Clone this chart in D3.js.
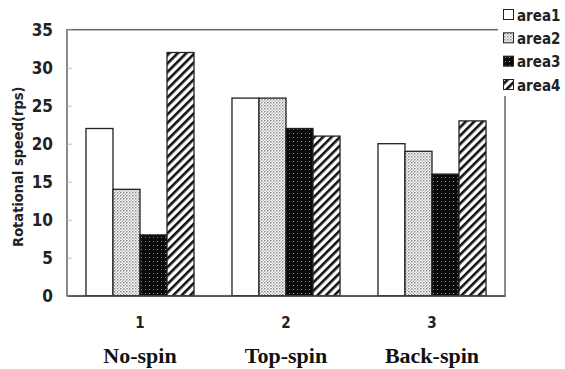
<!DOCTYPE html>
<html><head><meta charset="utf-8">
<script src="https://cdn.jsdelivr.net/npm/d3@7"></script>
<style>body{margin:0;background:#fff}</style>
</head><body>
<script>
const categories = ["1", "2", "3"];
const categoryNames = ["No-spin", "Top-spin", "Back-spin"];
const seriesNames = ["area1", "area2", "area3", "area4"];
const area1 = [22, 26, 20];
const area2 = [14, 26, 19];
const area3 = [8, 22, 16];
const area4 = [32, 21, 23];
const yTicks = [0, 5, 10, 15, 20, 25, 30, 35];
const yTitle = "Rotational speed(rps)";

const series = [area1, area2, area3, area4];
const W = 565, H = 369;
const m = {left: 67, right: 60, top: 29.7, bottom: 73.3};
const cond = "DejaVu Sans Condensed, Liberation Sans Narrow, sans-serif";
const svg = d3.select("body").append("svg").attr("width", W).attr("height", H);
const defs = svg.append("defs");

// patterns
const p2 = defs.append("pattern").attr("id", "pat2").attr("patternUnits", "userSpaceOnUse").attr("width", 3).attr("height", 3);
p2.append("rect").attr("width", 3).attr("height", 3).attr("fill", "#fff");
p2.append("rect").attr("x", 0).attr("y", 0).attr("width", 1.5).attr("height", 1.5).attr("fill", "#888");
p2.append("rect").attr("x", 1.5).attr("y", 1.5).attr("width", 1.5).attr("height", 1.5).attr("fill", "#bbb");
const p3 = defs.append("pattern").attr("id", "pat3").attr("patternUnits", "userSpaceOnUse").attr("width", 4).attr("height", 4);
p3.append("rect").attr("width", 4).attr("height", 4).attr("fill", "#0a0a0a");
p3.append("rect").attr("x", 1).attr("y", 1).attr("width", 1).attr("height", 1).attr("fill", "#888");
const p4 = defs.append("pattern").attr("id", "pat4").attr("patternUnits", "userSpaceOnUse").attr("width", 6).attr("height", 6).attr("patternTransform", "rotate(45)");
p4.append("rect").attr("width", 6).attr("height", 6).attr("fill", "#fff");
p4.append("rect").attr("x", 0).attr("y", 0).attr("width", 2.6).attr("height", 6).attr("fill", "#111");
const fills = ["#fff", "url(#pat2)", "url(#pat3)", "url(#pat4)"];

const x0 = d3.scaleBand().domain(categories).range([m.left, W - m.right]).paddingInner(0.26).paddingOuter(0.13);
const x1 = d3.scaleBand().domain(seriesNames).range([0, x0.bandwidth()]);
const y = d3.scaleLinear().domain([0, 35]).range([H - m.bottom, m.top]);

// frame
svg.append("rect").attr("x", m.left).attr("y", y(35)).attr("width", W - m.right - m.left).attr("height", y(0) - y(35))
  .attr("fill", "none").attr("stroke", "#666").attr("stroke-width", 1.5);

// y axis ticks (inward)
const yAxis = d3.axisLeft(y).tickValues(yTicks).tickSize(-5).tickPadding(14);
const ga = svg.append("g").attr("transform", `translate(${m.left},0)`).call(yAxis);
ga.select(".domain").remove();
ga.selectAll("line").attr("stroke", "#bbb");
ga.selectAll("text").attr("font-family", cond).attr("font-weight", "bold").attr("font-size", 17).attr("fill", "#222");

// bars
categories.forEach((c, i) => {
  series.forEach((s, j) => {
    svg.append("rect")
      .attr("x", x0(c) + x1(seriesNames[j]))
      .attr("y", y(s[i]))
      .attr("width", x1.bandwidth())
      .attr("height", y(0) - y(s[i]))
      .attr("fill", fills[j]).attr("stroke", "#222").attr("stroke-width", 1.3);
  });
});

// bottom axis
const xAxis = d3.axisBottom(x0).tickSize(0).tickPadding(22);
const gx = svg.append("g").attr("transform", `translate(0,${y(0)})`).call(xAxis);
gx.select(".domain").attr("stroke", "#555").attr("stroke-width", 1.5);
gx.selectAll("text").attr("font-family", cond).attr("font-weight", "bold").attr("font-size", 15).attr("fill", "#222");

// category names
svg.selectAll("text.cat").data(categories).enter().append("text").attr("class", "cat")
  .attr("x", d => x0(d) + x0.bandwidth() / 2).attr("y", 363)
  .attr("text-anchor", "middle").attr("font-family", "Liberation Serif, Times New Roman, serif")
  .attr("font-weight", "bold").attr("font-size", 22).attr("fill", "#111")
  .text((d, i) => categoryNames[i]);

// y title
svg.append("text").attr("transform", `translate(23,${(y(0) + y(35)) / 2 + 4}) rotate(-90)`)
  .attr("text-anchor", "middle").attr("font-family", cond)
  .attr("font-weight", "bold").attr("font-size", 14.5).attr("fill", "#222").text(yTitle);

// legend
const lg = svg.append("g");
lg.append("rect").attr("x", 498).attr("y", 0).attr("width", 67).attr("height", 96).attr("fill", "#fff");
const ly = d3.scalePoint().domain(seriesNames).range([15, 85]);
seriesNames.forEach((n, j) => {
  lg.append("rect").attr("x", 503.5).attr("y", ly(n) - 5.5).attr("width", 10).attr("height", 10)
    .attr("fill", fills[j]).attr("stroke", "#222").attr("stroke-width", 1);
  lg.append("text").attr("x", 517).attr("y", ly(n) + 5.5).attr("font-family", cond)
    .attr("font-weight", "bold").attr("font-size", 15).attr("fill", "#222").text(n);
});
</script>
</body></html>
